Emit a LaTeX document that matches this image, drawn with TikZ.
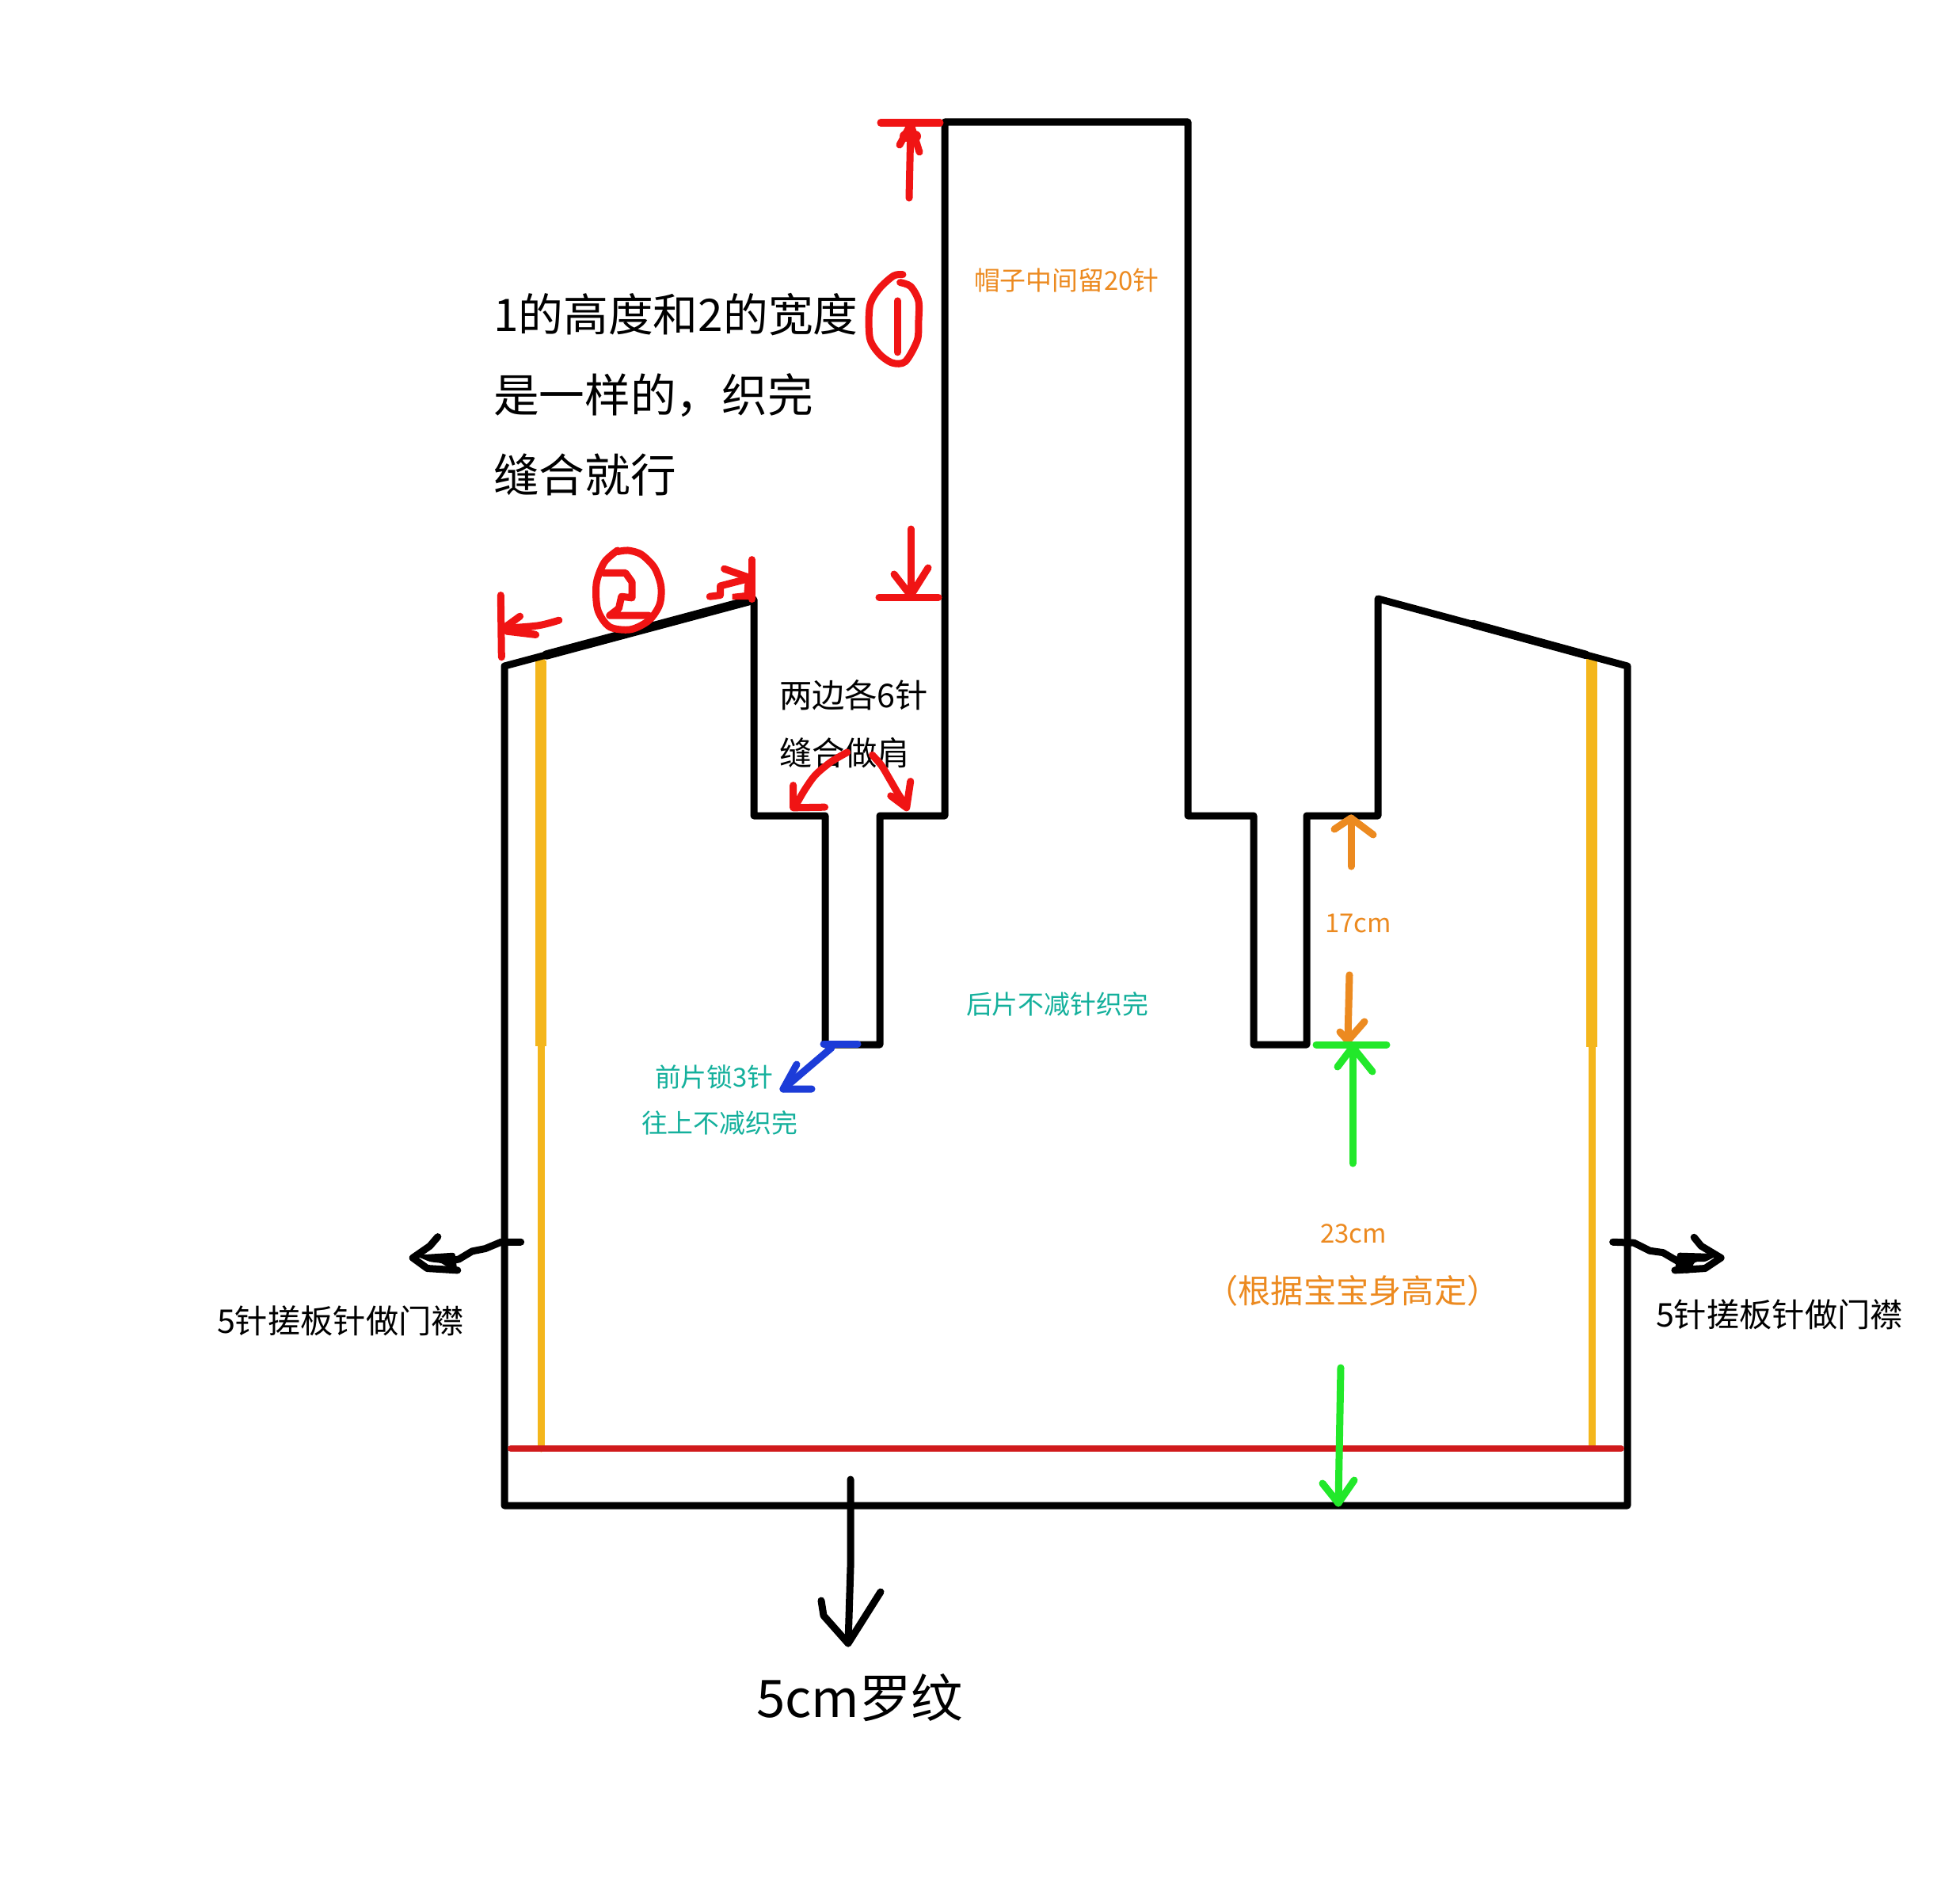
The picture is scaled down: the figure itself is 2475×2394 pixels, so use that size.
\documentclass[tikz,border=0pt]{standalone}
\usepackage{fontspec}
\setmainfont{Noto Sans CJK SC}
\definecolor{inkred}{HTML}{F01414}
\definecolor{seamred}{HTML}{D01A1C}
\definecolor{inkyellow}{HTML}{F4B61C}
\definecolor{inkorange}{HTML}{EC8A20}
\definecolor{inkgreen}{HTML}{22E82A}
\definecolor{inkblue}{HTML}{1C3CD8}
\definecolor{inkteal}{HTML}{14B09C}
\tikzset{
  pen/.style={line cap=round,line join=round,line width=0.09cm},
  outline/.style={pen,draw=black},
  redpen/.style={pen,draw=inkred},
  orangepen/.style={pen,draw=inkorange},
  greenpen/.style={pen,draw=inkgreen},
  bluepen/.style={pen,draw=inkblue},
  blackpen/.style={pen,draw=black},
  lab/.style={inner sep=0pt,outer sep=0pt,anchor=west,text=black},
  labc/.style={inner sep=0pt,outer sep=0pt,anchor=center},
  bigtxt/.style={font=\fontsize{16.4pt}{18pt}\selectfont},
  bigtxtb/.style={font=\fontsize{16.15pt}{18pt}\selectfont},
  hugetxt/.style={font=\fontsize{18.6pt}{20pt}\selectfont},
  midtxt/.style={font=\fontsize{11.75pt}{13pt}\selectfont},
  smalltxt/.style={font=\fontsize{9.35pt}{11pt}\selectfont},
  zoomthree/.style={x=0.0033333cm,y=-0.0033333cm}
}
\begin{document}
\begin{tikzpicture}[x=0.01cm,y=-0.01cm]
\useasboundingbox (0,0) rectangle (2475,2394);
\fill[white] (0,0) rectangle (2475,2394);

% texts
\node[lab,bigtxtb] (tone) at (623,397) {1的高度和2的宽度};
\node[lab,bigtxt] (ttwo) at (623,499) {是一样的，织完};
\node[lab,bigtxt] (tthree) at (623,600) {缝合就行};
\node[lab,midtxt] (shoulderA) at (984,878) {两边各6针};
\node[lab,midtxt] (shoulderB) at (984,951) {缝合做肩};
\node[lab,smalltxt,text=inkorange] (hood) at (1230,354) {帽子中间留20针};
\node[lab,smalltxt,text=inkteal] (back) at (1220,1268) {后片不减针织完};
\node[lab,smalltxt,text=inkteal] (frontA) at (827,1360) {前片锁3针};
\node[lab,smalltxt,text=inkteal] (frontB) at (810,1418) {往上不减织完};
\node[labc,smalltxt,text=inkorange] (seventeen) at (1715,1166) {17cm};
\node[labc,smalltxt,text=inkorange] (twentythree) at (1709,1558) {23cm};
\node[labc,midtxt,text=inkorange] (height) at (1708,1630) {（根据宝宝身高定）};
\node[lab,midtxt] (placketL) at (274,1668) {5针搓板针做门襟};
\node[lab,midtxt] (placketR) at (2091,1660) {5针搓板针做门襟};
\node[lab,hugetxt] (rib) at (955,2144) {5cm罗纹};

% yellow lines
\draw[line cap=round,draw=inkyellow,line width=0.09cm] (683,829) -- (683,1829);
\draw[line cap=butt,draw=inkyellow,line width=0.135cm] (683,834) -- (683,1321);
\draw[line cap=round,draw=inkyellow,line width=0.09cm] (2010,829) -- (2010,1828);
\draw[line cap=butt,draw=inkyellow,line width=0.135cm] (2010,832) -- (2010,1322);

% outline
\draw[outline] (637,841) -- (952,757) -- (952,1030) -- (1042,1030) -- (1042,1319)
  -- (1111,1319) -- (1111,1030) -- (1193,1030) -- (1193,154) -- (1500,154)
  -- (1500,1030) -- (1583,1030) -- (1583,1319) -- (1650,1319) -- (1650,1030)
  -- (1740,1030) -- (1740,756) -- (2055,841) -- (2055,1901) -- (637,1901) -- cycle;
\draw[pen,line width=0.115cm] (690,827) -- (948,758);
\draw[pen,line width=0.105cm] (1860,788) -- (2003,827);

% red seam
\draw[line cap=round,draw=seamred,line width=0.08cm] (645,1829) -- (2047,1829);

% height 1 marks
\draw[redpen] (1112,155) -- (1187,155);
\draw[redpen] (1148,250) -- (1150,157);
\draw[redpen] (1136,183) -- (1150,157) -- (1161,192);
\draw[redpen,line width=0.14cm] (1143,172) -- (1156,172);
\draw[redpen] (1150,668) -- (1150,750);
\draw[redpen] (1129,725) -- (1150,752) -- (1172,717);
\draw[redpen] (1110,754) -- (1185,754);
\begin{scope}[shift={(1090,330)},zoomthree]
  \draw[redpen] plot[smooth,tension=0.5] coordinates {(150,50) (115,55) (60,105) (25,170) (25,290) (60,350) (110,385) (160,380) (205,300) (210,230) (210,150) (180,95) (140,80)};
  \draw[redpen] (130,150) -- (130,345);
\end{scope}

% width 2 marks
\begin{scope}[shift={(620,680)},zoomthree]
  \draw[redpen] (37,215) -- (40,450);
  \draw[redpen] plot[smooth] coordinates {(258,310) (180,330) (60,340)};
  \draw[redpen] (110,295) -- (55,335) -- (170,365) -- (60,352);
  \draw[redpen] plot[smooth,tension=0.5] coordinates {(480,45) (430,90) (400,170) (405,270) (450,335) (530,345) (600,310) (640,250) (645,180) (620,110) (570,60) (520,45) (480,50)};
  \draw[redpen] (425,130) -- (510,130) -- (535,165) -- (535,225) -- (495,220) -- (485,265) -- (450,292) -- (600,292);
  \draw[redpen] (990,80) -- (990,230);
  \draw[redpen] (830,220) -- (870,215) -- (870,180) -- (985,150);
  \draw[redpen] (885,115) -- (985,150);
  \fill[inkred] (965,140) -- (1000,130) -- (1000,232) -- (915,232) -- (915,210) -- (960,205) -- cycle;
\end{scope}

% shoulder arrows
\begin{scope}[shift={(980,920)},zoomthree]
  \draw[redpen] plot[smooth] coordinates {(270,90) (210,125) (150,175) (110,230) (75,290)};
  \draw[redpen] (65,215) -- (65,300) -- (185,298);
  \draw[redpen] plot[smooth] coordinates {(365,100) (400,140) (430,190) (465,250) (495,295)};
  \draw[redpen] (435,255) -- (495,300) -- (510,200);
\end{scope}

% blue
\draw[bluepen] (1040,1318) -- (1083,1318);
\draw[bluepen] (1050,1323) -- (989,1375);
\draw[bluepen] (1006,1344) -- (989,1375) -- (1025,1375);

% orange arrows
\draw[orangepen] (1706,1094) -- (1706,1033);
\draw[orangepen] (1685,1047) -- (1706,1033) -- (1734,1054);
\draw[orangepen] (1704,1231) -- (1702,1312);
\draw[orangepen] (1692,1303) -- (1702,1314) -- (1723,1290);

% green arrows
\draw[greenpen] (1662,1319) -- (1751,1319);
\draw[greenpen] (1708,1469) -- (1708,1322);
\draw[greenpen] (1689,1347) -- (1708,1322) -- (1733,1353);
\draw[greenpen] (1693,1727) -- (1690,1898);
\draw[greenpen] (1670,1873) -- (1690,1898) -- (1710,1869);

% placket arrows
\begin{scope}[shift={(250,1530)},zoomthree]
  \draw[blackpen] (1225,115) -- (1150,115) -- (1090,140) -- (1040,150) -- (990,180) -- (940,190);
  \draw[blackpen] (910,95) -- (880,130) -- (815,175) -- (870,215) -- (985,222);
  \fill[black,rounded corners=0.03cm] (820,165) -- (975,155) -- (985,235) -- (925,195) -- (880,190) -- cycle;
\end{scope}
\begin{scope}[shift={(2020,1530)},zoomthree]
  \draw[blackpen] (50,115) -- (130,118) -- (190,148) -- (240,155) -- (300,190);
  \draw[blackpen] (358,97) -- (385,130) -- (460,175) -- (400,215) -- (285,222);
  \fill[black,rounded corners=0.03cm] (295,155) -- (460,160) -- (400,190) -- (360,190) -- (340,235) -- (285,225) -- cycle;
\end{scope}

% rib arrow
\draw[blackpen] (1074,1868) -- (1074,1979) -- (1071,2075);
\draw[blackpen] (1037,2021) -- (1040,2040) -- (1071,2075) -- (1112,2010);
\end{tikzpicture}
\end{document}
